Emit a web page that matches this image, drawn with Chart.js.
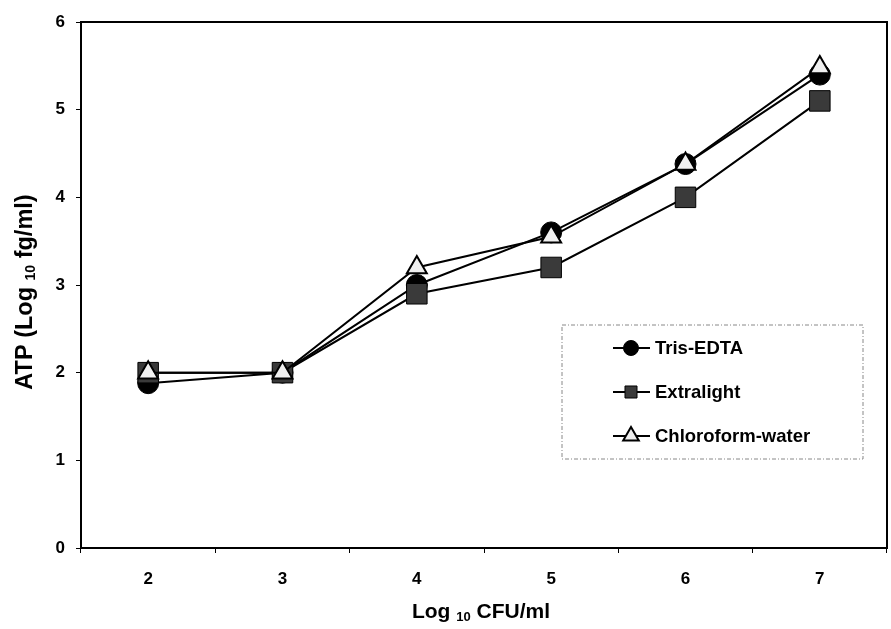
<!DOCTYPE html>
<html>
<head>
<meta charset="utf-8">
<script src="https://cdn.jsdelivr.net/npm/chart.js@4.4.1/dist/chart.umd.min.js"></script>
<style>
  html, body { margin: 0; padding: 0; background: #fff; }
  #wrap { width: 891px; height: 629px; position: relative; }
</style>
</head>
<body>
<div id="wrap"><canvas id="atpChart" width="891" height="629"></canvas></div>
<script>
// ---- data ----
const cfuLabels = ['2', '3', '4', '5', '6', '7'];
const trisEdta = [1.88, 2.0, 3.0, 3.6, 4.38, 5.4];
const extralight = [2.0, 2.0, 2.9, 3.2, 4.0, 5.1];
const chloroformWater = [2.0, 2.0, 3.2, 3.55, 4.38, 5.48];

const FONT = '"Liberation Sans", Arial, sans-serif';

// frame round the plot area (top + right sides too)
const framePlugin = {
  id: 'frame',
  afterDraw(chart) {
    const { ctx, chartArea: a } = chart;
    ctx.save();
    ctx.strokeStyle = '#000';
    ctx.lineWidth = 2;
    ctx.strokeRect(a.left, a.top, a.right - a.left, a.bottom - a.top);
    ctx.restore();
  }
};

// axis titles with subscript "10"
function drawSubTitle(ctx, parts, x, y) {
  // parts: [text, size, dy]
  let total = 0;
  parts.forEach(p => { ctx.font = `bold ${p[1]}px ${FONT}`; total += ctx.measureText(p[0]).width; });
  let cx = x - total / 2;
  parts.forEach(p => {
    ctx.font = `bold ${p[1]}px ${FONT}`;
    ctx.fillText(p[0], cx, y + p[2]);
    cx += ctx.measureText(p[0]).width;
  });
}

const titlesPlugin = {
  id: 'titles',
  afterDraw(chart) {
    const { ctx } = chart;
    ctx.save();
    ctx.fillStyle = '#000';
    ctx.textBaseline = 'middle';
    ctx.textAlign = 'left';
    drawSubTitle(ctx, [['Log ', 21, 0], ['10', 13, 5], [' CFU/ml', 21, 0]], 481, 612);
    ctx.translate(26, 292);
    ctx.rotate(-Math.PI / 2);
    drawSubTitle(ctx, [['ATP (Log ', 23.5, 0], ['10', 14, 5], [' fg/ml)', 23.5, 0]], 0, 0);
    ctx.restore();
  }
};

// legend box inside the plot, dashed grey border
const legendBoxPlugin = {
  id: 'legendBox',
  afterDraw(chart) {
    const { ctx } = chart;
    const box = { x: 562, y: 325, w: 301, h: 134 };
    ctx.save();
    ctx.fillStyle = '#fff';
    ctx.fillRect(box.x, box.y, box.w, box.h);
    ctx.strokeStyle = '#888';
    ctx.lineWidth = 1;
    ctx.setLineDash([4, 2, 1, 2]);
    ctx.strokeRect(box.x, box.y, box.w, box.h);
    ctx.setLineDash([]);
    const rowY = [348, 392, 436];
    const sizes = [7.5, 8.5, 9];
    chart.data.datasets.forEach((ds, k) => {
      const y = rowY[k];
      ctx.strokeStyle = '#000';
      ctx.lineWidth = 2;
      ctx.beginPath();
      ctx.moveTo(613, y);
      ctx.lineTo(650, y);
      ctx.stroke();
      ctx.fillStyle = ds.pointBackgroundColor;
      ctx.strokeStyle = ds.pointBorderColor;
      ctx.lineWidth = ds.pointBorderWidth;
      Chart.helpers.drawPoint(ctx, { pointStyle: ds.pointStyle, radius: sizes[k], borderWidth: ds.pointBorderWidth }, 631, y);
      ctx.fillStyle = '#000';
      ctx.font = `bold 18.5px ${FONT}`;
      ctx.textAlign = 'left';
      ctx.textBaseline = 'middle';
      ctx.fillText(ds.label, 655, y + 1);
    });
    ctx.restore();
  }
};

const seriesBase = { borderColor: '#000', borderWidth: 2, tension: 0, fill: false, pointBorderColor: '#000' };

new Chart(document.getElementById('atpChart').getContext('2d'), {
  type: 'line',
  data: {
    labels: cfuLabels,
    datasets: [
      { ...seriesBase, label: 'Tris-EDTA', data: trisEdta, order: 3,
        pointStyle: 'circle', pointRadius: 10.5, pointBackgroundColor: '#000', pointBorderWidth: 1 },
      { ...seriesBase, label: 'Extralight', data: extralight, order: 2,
        pointStyle: 'rect', pointRadius: 14.5, pointBackgroundColor: '#3a3a3a', pointBorderWidth: 1 },
      { ...seriesBase, label: 'Chloroform-water', data: chloroformWater, order: 1,
        pointStyle: 'triangle', pointRadius: 11.5, pointBackgroundColor: '#f0f0f0', pointBorderWidth: 2 }
    ]
  },
  options: {
    responsive: false,
    animation: false,
    devicePixelRatio: 1,
    layout: { autoPadding: false, padding: { top: 22, right: 4, left: 0, bottom: 0 } },
    plugins: { legend: { display: false }, tooltip: { enabled: false } },
    scales: {
      x: {
        type: 'category',
        offset: true,
        afterFit(scale) { scale.height = 81; scale.paddingLeft = 0; scale.paddingRight = 0; },
        grid: { offset: true, drawOnChartArea: false, drawTicks: true, tickLength: 5, color: '#000', lineWidth: 1 },
        border: { display: true, color: '#000', width: 2 },
        ticks: { color: '#000', padding: 16, font: { family: FONT, size: 17, weight: 'bold' } }
      },
      y: {
        min: 0,
        max: 6,
        afterFit(scale) { scale.width = 81; scale.paddingTop = 0; scale.paddingBottom = 0; },
        grid: { drawOnChartArea: false, drawTicks: true, tickLength: 5, color: '#000', lineWidth: 1 },
        border: { display: true, color: '#000', width: 2 },
        ticks: { stepSize: 1, color: '#000', padding: 11, font: { family: FONT, size: 17, weight: 'bold' } }
      }
    }
  },
  plugins: [framePlugin, titlesPlugin, legendBoxPlugin]
});
</script>
</body>
</html>
